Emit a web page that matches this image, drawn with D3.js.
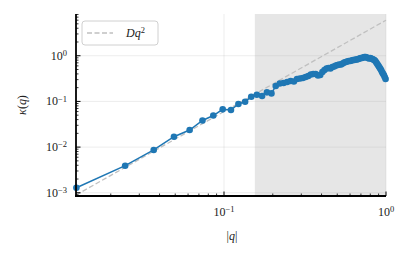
<!DOCTYPE html>
<meta charset="utf-8">
<style>
    body { margin: 0; background: #fff; }
    text { font-family: "Liberation Serif", "DejaVu Serif", serif; fill: #222; }
</style>
<svg width="411" height="254"></svg>
<script src="https://d3js.org/d3.v7.min.js"></script>
<script>

    // |q| values of the measured modes
    var qValues = [
        0.01227, 0.02454, 0.03682, 0.04909, 0.06136, 0.07363, 0.0859, 0.09817, 0.1104, 0.1227,
        0.135, 0.1473, 0.1595, 0.1718, 0.1841, 0.1963, 0.2086, 0.2209, 0.2332, 0.2454,
        0.2577, 0.27, 0.2822, 0.2945, 0.3068, 0.3191, 0.3313, 0.3436, 0.3559, 0.3682,
        0.3804, 0.3927, 0.405, 0.4172, 0.4295, 0.4418, 0.4541, 0.4663, 0.4786, 0.4909,
        0.5031, 0.5154, 0.5277, 0.54, 0.5522, 0.5645, 0.5768, 0.589, 0.6013, 0.6136,
        0.6259, 0.6381, 0.6504, 0.6627, 0.675, 0.6872, 0.6995, 0.7118, 0.724, 0.7363,
        0.7486, 0.7609, 0.7731, 0.7854, 0.7977, 0.8099, 0.8222, 0.8345, 0.8468, 0.859,
        0.8713, 0.8836, 0.8959, 0.9081, 0.9204, 0.9327, 0.9449, 0.9572, 0.9695, 0.9818,
        0.994
    ];

    // kappa(q)
    var kappaValues = [
        0.00129, 0.00392, 0.00865, 0.0169, 0.0237, 0.0382, 0.0491, 0.0671, 0.0648, 0.0877,
        0.0984, 0.127, 0.140, 0.131, 0.158, 0.150, 0.217, 0.246, 0.253, 0.266,
        0.279, 0.272, 0.309, 0.317, 0.325, 0.342, 0.360, 0.388, 0.398, 0.398,
        0.369, 0.378, 0.440, 0.486, 0.525, 0.538, 0.525, 0.566, 0.580, 0.610,
        0.626, 0.642, 0.642, 0.675, 0.710, 0.728, 0.746, 0.766, 0.766, 0.785,
        0.805, 0.805, 0.826, 0.826, 0.847, 0.868, 0.891, 0.891, 0.914, 0.937,
        0.937, 0.914, 0.891, 0.868, 0.891, 0.868, 0.847, 0.826, 0.805, 0.766,
        0.710, 0.658, 0.610, 0.566, 0.525, 0.486, 0.440, 0.408, 0.378, 0.342,
        0.309
    ];

    var D = 6.0;               // prefactor of the D q^2 guide
    var shadeStart = 0.155;    // start of grey band
    var xDomain = [0.0122, 1];
    var yDomain = [0.00085, 8.2];
    var yMajor = [0.001, 0.01, 0.1, 1];
    var yMajorLabels = ["\u22123", "\u22122", "\u22121", "0"];
    var xMajor = [0.1, 1];
    var xMajorLabels = ["\u22121", "0"];

    var svg = d3.select("svg");
    var pL = 76, pR = 386, pT = 14, pB = 196;

    var x = d3.scaleLog().domain(xDomain).range([pL, pR]);
    var y = d3.scaleLog().domain(yDomain).range([pB, pT]);

    var data = qValues.map(function (q, i) { return {q: q, k: kappaValues[i]}; });

    // shaded band
    svg.append("rect")
        .attr("x", x(shadeStart))
        .attr("y", pT)
        .attr("width", x(xDomain[1]) - x(shadeStart))
        .attr("height", pB - pT)
        .attr("fill", "#808080")
        .attr("fill-opacity", 0.2);

    // grid
    var grid = svg.append("g").attr("stroke", "#b0b0b0").attr("stroke-opacity", 0.3).attr("stroke-width", 0.8);
    grid.selectAll("line.gy").data(yMajor).enter().append("line")
        .attr("x1", pL).attr("x2", pR)
        .attr("y1", function (d) { return y(d); })
        .attr("y2", function (d) { return y(d); });
    grid.selectAll("line.gx").data(xMajor).enter().append("line")
        .attr("y1", pT).attr("y2", pB)
        .attr("x1", function (d) { return x(d); })
        .attr("x2", function (d) { return x(d); });

    // D q^2 guide
    var guide = d3.line()
        .x(function (d) { return x(d); })
        .y(function (d) { return y(D * d * d); });
    svg.append("path")
        .datum(xDomain)
        .attr("d", guide)
        .attr("fill", "none")
        .attr("stroke", "#c0c0c0")
        .attr("stroke-width", 1.3)
        .attr("stroke-dasharray", "5,2.5");

    // data line + markers
    var line = d3.line()
        .x(function (d) { return x(d.q); })
        .y(function (d) { return y(d.k); });
    svg.append("path")
        .datum(data)
        .attr("d", line)
        .attr("fill", "none")
        .attr("stroke", "#1f77b4")
        .attr("stroke-width", 1.5);
    svg.append("g").selectAll("circle")
        .data(data).enter().append("circle")
        .attr("cx", function (d) { return x(d.q); })
        .attr("cy", function (d) { return y(d.k); })
        .attr("r", 3.3)
        .attr("fill", "#1f77b4");

    // ticks (inward)
    var ticks = svg.append("g").attr("stroke", "#000");
    var yMinor = [], xMinor = [];
    [-4, -3, -2, -1, 0].forEach(function (e) {
        for (var m = 2; m <= 9; m++) {
            var v = m * Math.pow(10, e);
            if (v > yDomain[0] && v < yDomain[1]) yMinor.push(v);
            if (v > xDomain[0] && v < xDomain[1]) xMinor.push(v);
        }
    });
    ticks.selectAll("line.ym").data(yMinor).enter().append("line")
        .attr("x1", pL).attr("x2", pL + 2.5)
        .attr("y1", function (d) { return y(d); }).attr("y2", function (d) { return y(d); })
        .attr("stroke-width", 0.8);
    ticks.selectAll("line.yM").data(yMajor).enter().append("line")
        .attr("x1", pL).attr("x2", pL + 4.5)
        .attr("y1", function (d) { return y(d); }).attr("y2", function (d) { return y(d); })
        .attr("stroke-width", 1);
    ticks.selectAll("line.xm").data(xMinor).enter().append("line")
        .attr("y1", pB).attr("y2", pB - 2.5)
        .attr("x1", function (d) { return x(d); }).attr("x2", function (d) { return x(d); })
        .attr("stroke-width", 0.8);
    ticks.selectAll("line.xM").data(xMajor).enter().append("line")
        .attr("y1", pB).attr("y2", pB - 4.5)
        .attr("x1", function (d) { return x(d); }).attr("x2", function (d) { return x(d); })
        .attr("stroke-width", 1);

    // spines
    svg.append("line").attr("x1", pL).attr("x2", pL).attr("y1", pT).attr("y2", pB + 0.9)
        .attr("stroke", "#000").attr("stroke-width", 1.8);
    svg.append("line").attr("x1", pL - 0.9).attr("x2", pR).attr("y1", pB).attr("y2", pB)
        .attr("stroke", "#000").attr("stroke-width", 1.8);

    // tick labels
    function powLabel(sel, exp) {
        sel.append("tspan").text("10");
        sel.append("tspan").attr("dy", "-0.45em").attr("font-size", "8.5px").text(exp);
    }
    yMajor.forEach(function (v, i) {
        var t = svg.append("text")
            .attr("x", 67).attr("y", y(v) + 4)
            .attr("text-anchor", "end")
            .attr("font-size", "12px");
        powLabel(t, yMajorLabels[i]);
    });
    xMajor.forEach(function (v, i) {
        var t = svg.append("text")
            .attr("x", x(v)).attr("y", 216)
            .attr("text-anchor", "middle")
            .attr("font-size", "12px");
        powLabel(t, xMajorLabels[i]);
    });

    // axis labels
    svg.append("text")
        .attr("x", 232).attr("y", 240)
        .attr("text-anchor", "middle")
        .attr("font-size", "12px")
        .html("|<tspan font-style=\"italic\">q</tspan>|");
    svg.append("text")
        .attr("transform", "translate(26," + ((pT + pB) / 2) + ") rotate(-90)")
        .attr("text-anchor", "middle")
        .attr("font-size", "12px")
        .html("<tspan font-style=\"italic\">\u03ba</tspan>(<tspan font-style=\"italic\">q</tspan>)");

    // legend
    var lg = svg.append("g");
    lg.append("rect")
        .attr("x", 82).attr("y", 21).attr("width", 76).attr("height", 24)
        .attr("rx", 3)
        .attr("fill", "#fff").attr("fill-opacity", 0.8)
        .attr("stroke", "#d0d0d0").attr("stroke-width", 1);
    lg.append("line")
        .attr("x1", 87).attr("x2", 113).attr("y1", 33).attr("y2", 33)
        .attr("stroke", "#c0c0c0").attr("stroke-width", 1.3)
        .attr("stroke-dasharray", "5,2.5");
    var lt = lg.append("text").attr("x", 126).attr("y", 37).attr("font-size", "12px");
    lt.append("tspan").attr("font-style", "italic").text("Dq");
    lt.append("tspan").attr("dy", "-0.45em").attr("font-size", "8.5px").text("2");

</script>
